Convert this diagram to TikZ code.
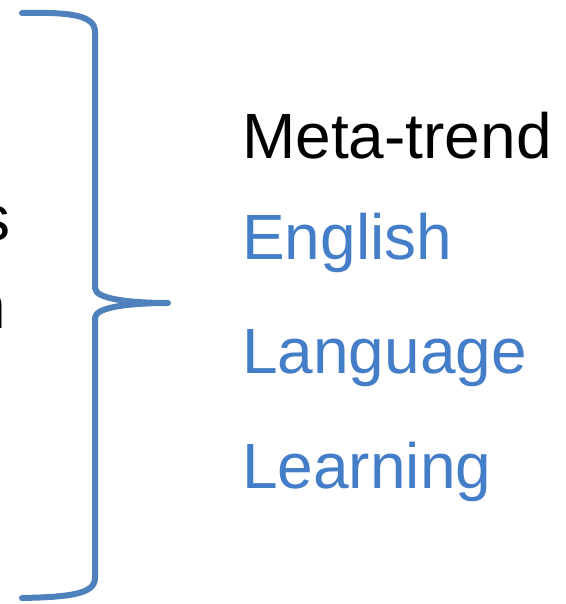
\documentclass[tikz,border=0pt]{standalone}
\usepackage{fontspec}
\setmainfont{Liberation Sans}
\usepackage{tikz}
\definecolor{bracecol}{RGB}{79,129,189}
\definecolor{trendblue}{RGB}{68,125,200}

\begin{document}
\begin{tikzpicture}[x=1pt, y=-1pt,
		word/.style={anchor=base west, inner sep=0pt, font=\fontsize{64}{76}\selectfont},
		cut/.style={anchor=base east, inner sep=0pt, font=\fontsize{64}{76}\selectfont},
		brace/.style={draw=bracecol, line width=6pt, line cap=round, line join=round}]
				\clip (0,0) rectangle (565,604);
				\fill[white] (0,0) rectangle (565,604);
				\node[cut] (lefts) at (11,240) {s};
				\node[cut] (leftn) at (6.5,328) {n};
				\draw[brace] (22,13) .. controls (70,12) and (95,15) .. (95,32) -- (95,288)
					.. controls (95,299) and (130,303) .. (168,303)
					.. controls (130,303) and (95,307) .. (95,318) -- (95,578)
					.. controls (95,594) and (70,597) .. (22,598);
				\node[word] (meta) at (242,158) {Meta-trend};
				\node[word, text=trendblue] (english) at (242,259) {English};
				\node[word, text=trendblue] (language) at (242,373) {Language};
				\node[word, text=trendblue] (learning) at (242,488) {Learning};
			\end{tikzpicture}
\end{document}
